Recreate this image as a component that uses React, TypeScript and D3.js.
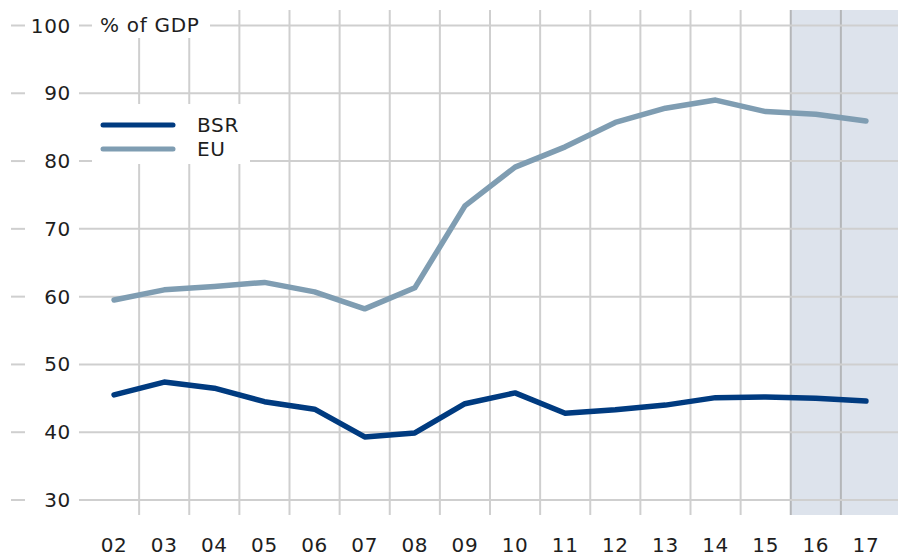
import React, { useRef, useEffect } from "react";
import * as d3 from "d3";

const years = ["02", "03", "04", "05", "06", "07", "08", "09", "10", "11", "12", "13", "14", "15", "16", "17"];
const bsr = [45.5, 47.4, 46.5, 44.5, 43.4, 39.3, 39.9, 44.2, 45.8, 42.8, 43.3, 44.0, 45.1, 45.2, 45.0, 44.6];
const eu = [59.5, 61.0, 61.5, 62.1, 60.7, 58.2, 61.3, 73.4, 79.1, 82.1, 85.7, 87.8, 89.0, 87.3, 86.9, 85.9];
const yTicks = [30, 40, 50, 60, 70, 80, 90, 100];
const forecastYears = ["16", "17"];

const W = 898;
const H = 557;
const FONT = "'DejaVu Sans', sans-serif";

function App() {
  const svgRef = useRef<SVGSVGElement>(null);

  useEffect(() => {
    const svg = d3.select(svgRef.current);
    svg.selectAll("*").remove();

    const x = d3.scaleBand().domain(years).range([89, 891]);
    const y = d3.scaleLinear().domain([30, 100]).range([500, 25.5]);
    const top = 10, bottom = 515;

    // forecast shading
    const f0 = x(forecastYears[0])!;
    svg.append("rect")
      .attr("x", f0).attr("y", top)
      .attr("width", W - f0).attr("height", bottom - top)
      .attr("fill", "#dde3ec");

    // vertical gridlines at band boundaries
    const bounds = years.slice(1).map(d => x(d)!);
    svg.selectAll(".vgrid").data(bounds).join("line")
      .attr("class", "vgrid")
      .attr("x1", d => d).attr("x2", d => d)
      .attr("y1", top).attr("y2", bottom)
      .attr("stroke", d => d >= f0 - 0.5 ? "#b4b6b9" : "#cfcfcf")
      .attr("stroke-width", 2);

    // horizontal gridlines + left dashes
    svg.selectAll(".hgrid").data(yTicks).join("line")
      .attr("class", "hgrid")
      .attr("x1", 79).attr("x2", W)
      .attr("y1", d => y(d)).attr("y2", d => y(d))
      .attr("stroke", "#cfcfcf").attr("stroke-width", 2);
    svg.selectAll(".ydash").data(yTicks).join("line")
      .attr("class", "ydash")
      .attr("x1", 11).attr("x2", 25)
      .attr("y1", d => y(d)).attr("y2", d => y(d))
      .attr("stroke", "#cfcfcf").attr("stroke-width", 2);

    const txt = (sel: any) => sel
      .attr("font-family", FONT).attr("font-size", 20)
      .attr("letter-spacing", 0.7)
      .attr("fill", "#1e1e1e");

    svg.selectAll(".ylab").data(yTicks).join("text")
      .attr("class", "ylab")
      .attr("x", 71).attr("y", d => y(d) + 7)
      .attr("text-anchor", "end")
      .call(txt)
      .text(d => d);

    svg.selectAll(".xlab").data(years).join("text")
      .attr("class", "xlab")
      .attr("x", d => x(d)! + x.bandwidth() / 2).attr("y", 552)
      .attr("text-anchor", "middle")
      .call(txt)
      .text(d => d);

    // unit label with white backing
    svg.append("rect").attr("x", 92).attr("y", top).attr("width", 118).attr("height", 28).attr("fill", "#fff");
    svg.append("text")
      .attr("x", 100).attr("y", 32)
      .call(txt)
      .text("% of GDP");

    // legend
    svg.append("rect").attr("x", 92).attr("y", 104).attr("width", 158).attr("height", 60).attr("fill", "#fff");
    const legend = [
      { name: "BSR", color: "#003b80", ly: 125 },
      { name: "EU", color: "#7f9db2", ly: 149 }
    ];
    legend.forEach(l => {
      svg.append("line")
        .attr("x1", 103).attr("x2", 173)
        .attr("y1", l.ly).attr("y2", l.ly)
        .attr("stroke", l.color).attr("stroke-width", 5)
        .attr("stroke-linecap", "round");
      svg.append("text")
        .attr("x", 197).attr("y", l.ly + 7)
        .call(txt)
        .text(l.name);
    });

    const line = d3.line<number>()
      .x((_, i) => x(years[i])! + x.bandwidth() / 2)
      .y(d => y(d));

    [{ vals: eu, color: "#7f9db2" }, { vals: bsr, color: "#003b80" }].forEach(s => {
      svg.append("path")
        .attr("d", line(s.vals))
        .attr("fill", "none")
        .attr("stroke", s.color)
        .attr("stroke-width", 5.5)
        .attr("stroke-linejoin", "round")
        .attr("stroke-linecap", "round");
    });
  }, []);

  return (
    <svg ref={svgRef} width={W} height={H}
      style={{ position: "absolute", left: 0, top: 0, background: "#fff" }} />
  );
}

export default App;
